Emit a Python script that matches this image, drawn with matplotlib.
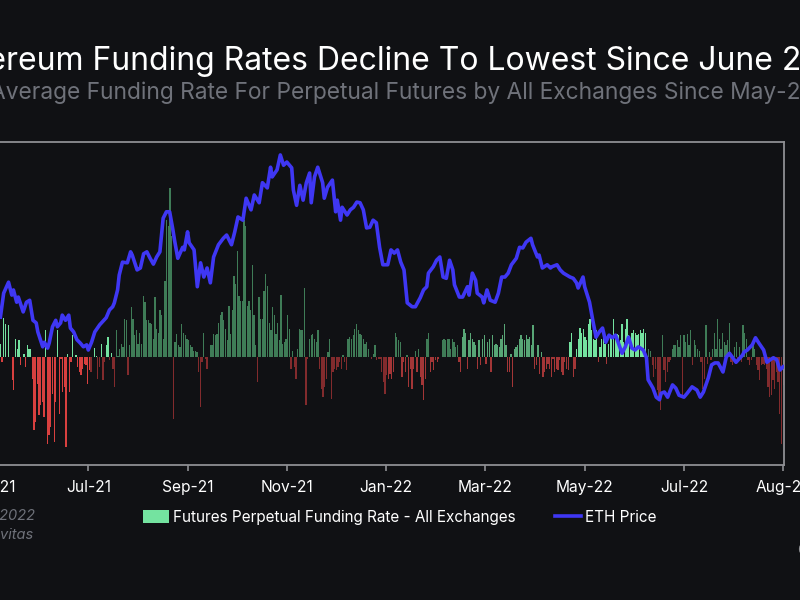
import numpy as np
import matplotlib
matplotlib.use("Agg")
import matplotlib.pyplot as plt
from matplotlib.patches import Patch
from matplotlib.lines import Line2D

plt.rcParams['font.family'] = ['Inter', 'DejaVu Sans']

# ---------------------------------------------------------
# DATA (day 0 = May-21 tick, one tick every 61 days)
# ---------------------------------------------------------
tick_days = [0, 61, 122, 183, 244, 305, 366, 427, 488]
tick_labels = ['May-21', 'Jul-21', 'Sep-21', 'Nov-21', 'Jan-22',
               'Mar-22', 'May-22', 'Jul-22', 'Aug-22']

# daily average funding rate, in units of 0.01 %
funding_first_day = 7
funding_last_day = 488
funding_bp = [
    0.36, -0.14, 1.11, 0.92, 0, 0.89, 0, -0.64, -0.92, 0.5, 0.22, 0.47, -0.22, 0, 0.08, -0.28,
    0.33, 0.22, 0.22, -0.61, -2.03, -1.81, -0.75, -1.61, -1.33, -1.25, -1.67, 0.75, -2.42, -2.17,
    -1.94, -1.03, -2.36, -1.25, 0.75, -1.58, -0.06, -0.97, -0.83, -2.5, 0.08, -0.97, -0.14, 0.61,
    0, 0.06, -0.28, -0.42, -0.5, -0.33, -0.19, -0.22, -0.75, -0.36, -0.42, 0, 0.25, 0.03, -0.61,
    -0.28, 0.36, -0.64, -0.14, 0.33, 0.56, -0.08, 0.11, -0.33, -0.83, 0.75, 0.03, 0.22, 0.36,
    0.28, 1.06, 1.03, -0.5, 0.33, 1.39, 1.06, 0.61, 0.75, 0.36, 0.69,
    0.36, 1.72, 1.53, 1.03, 1.03, 0.97, 0.92, 0.5, 1.67, 0.78, 0.69, 1.33, 1.17, 0.5, 2.14, 3.83,
    3.67, 4.72, 3.39, -1.72, 0.42, 0.64, 0.33, 0.28, 0.92, 0.69, 0.61, 0.5, 0.47, 0.33, 0.28,
    0.19, 0.19, 0.14, -0.42, -1.39, -0.14, 0.69, -0.06, -0.33, 0, 0.33, 0.33, 0.64, 0.61, 0.64,
    0.97, 1.19, 1.25, 1.03, 0.78, 0.47, 1.44, 0.64, 1.31, 2.28, 2.03, 2.97, 1.72, 1.58, 1.58,
    3.83, 3.67, 1.44, 1.58, 1.31, 2.58, 1.19, 0.33, -0.69, 1.67, 1.06, 1.06, 1.86, 2.31, 2.0,
    0.97, 0.75, 1.39, 1.19, 0.64, 0.97, 0.47, 1.75, 0.36, 0.42, 0.5, 1.19, 0.78, -0.33, 0.19, -0.28,
    -0.61, 0.22, 0.78, 0.75, 0.75, 1.94, -1.33, -0.06, 0.5, 0.61, 0.64, 0.5, 0.42, 0.75, -0.33,
    -0.89, -1.11, -0.83, -0.61, 0.14, 0.5, -1.17, -0.42, -0.33, -0.36, -0.28, -0.14, -0.33, 0.06,
    -0.14, -0.36, 0.5, 0.56, 0.5, 0.61, 0.78, 0.92, 0.75, 0.64, 0.61, 0.5, 0.36, 0.42, 0.22, 0,
    -0.06, 0.08, 0.33, -0.08, -0.06, -0.06, -0.42, -0.69, -1.03, -0.5, -0.61, -0.47, -0.61, -0.42,
    0.69, 0.56, 0.47, 0.42, -0.56, -0.14, -0.42, 0.06, -0.83, -0.33, -0.89, -0.33, 0.19, -0.42,
    0.22, -0.56, -0.78, -1.19, -0.61, 0.5, 0.69, -0.42, -0.14, -0.36, -0.08, -0.14, -0.06, 0,
    0.47, 0.5, 0.47, 0.5, 0.5, 0.22, 0.5, 0.42, 0.28, 0.33, -0.14, -0.42, 0.56, 0.78, 0.69, -0.33,
    0.47, 0.69, 0.5, 0.42, 0.33, -0.33, 0.47, -0.22, 0.5, 0.61, -0.19, 0.42, 0.5, -0.42, 0.61,
    0.33, 0.36, 0.33, 0.28, 0.5, 0.61, 0.92, 0.33, -0.42, -0.42, 0.08, -0.83, 0.22, 0.28, 0.33,
    0.5, 0.61, 0.5, 0.47, 0.61, 0.5, 0.56, 0.33, 0.89, -0.33, -0.22, 0.33, -0.47, 0.14, -0.56,
    -0.42, -0.33, -0.19, -0.33, -0.56, -0.06, -0.42, -0.33, -0.36, -0.08, -0.42, -0.5, -0.14,
    -0.33, -0.36, 0.42, 0.69, -0.56, -0.33, 0.22, 0.5, 0.83, 0.69, 0.78, 0.56, 0.47, 0.92, 1.06,
    0.75, 0.5, 0.47,
    0.75, -0.14, 0.28, 0.5, 0.75, 0.36, -0.19, 0.36, 0.61, 0.61, 1.06, 0.56, 0.64, 0.61, 0.47,
    0.92, 0.42, 0.78, 1.06, 0.61, 0.5, 0.69, 0.75, 0.69, 0.61, 0.64, 0.75, 0.69, 0.78, 0.69,
    -0.14, 0.22, 0.19, -0.22, -0.56, -0.33, -0.92, -1.17, -1.47, 0.61, -0.36, -0.69, -0.42,
    -0.14, -0.08, 0.22, 0.33, 0.33, 0.47, 0.28, 0.61, -1.06, 0.61, 0.42, 0.64, 0.33, 0.75, -0.22,
    0.47, 0.33, 0.22, 0.19, -0.14, -0.89, -0.61, 0.89, -0.19, 0.14, -0.08, 0.22, 0.69, 0.22,
    1.06, 0.5, 0.22, 0.69, 0.42, 0.33, 0.47, 0.97, -0.14, -0.22, 0.28, 0.42, -0.08, 0.28, -0.14,
    0.89, 0.69, 0.5, -0.08, -0.22, -0.08, 0.36, 0.22, -0.22, -0.36, -0.64, -0.22, -0.19, -0.22,
    -0.33, -0.83, -1.11, -1.06, -0.64, -0.89, -0.42, -0.69, -1.58, -2.42, -0.78,
]

eth_day = [
    7, 9, 12, 14, 15, 17, 18, 21, 23, 25, 26, 27, 29, 30, 33, 34, 36, 37, 39, 41, 42, 44, 45, 47,
    49, 50, 52, 54, 56, 58, 60, 61, 63, 65, 68, 72, 74, 76, 77, 79, 80, 82, 85, 87, 88, 91, 93,
    95, 97, 99, 101, 103, 105, 107, 109, 111, 113, 114, 116, 119, 120, 122, 123, 126, 128, 130,
    132, 134, 136, 138, 141, 144, 146, 149, 151, 153, 156, 158, 161, 163, 166, 168, 171, 173,
    174, 177, 179, 181, 183, 186, 187, 189, 191, 193, 195, 197, 198, 200, 202, 205, 206, 208,
    211, 213, 214, 216, 217, 220, 222, 224, 226, 228, 230, 232, 234, 236, 238, 240, 242, 245,
    247, 249, 251, 253, 255, 257, 260, 262, 265, 267, 269, 270, 273, 275, 277, 279, 281, 283,
    285, 286, 289, 291, 294, 295, 297, 299, 300, 303, 304, 306, 308, 311, 313, 315, 317, 319,
    321, 324, 326, 328, 330, 333, 334, 337, 338, 340, 343, 345, 346, 349, 351, 353, 355, 357,
    359, 361, 362, 365, 366, 368, 369, 371, 373, 375, 377, 379, 381, 383, 385, 386, 389, 391,
    393, 395, 397, 399, 402, 404, 405, 408, 410, 412, 413, 415, 417, 420, 422, 424, 427, 429,
    432, 435, 437, 439, 442, 444, 446, 448, 451, 453, 455, 457, 459, 463, 464, 466, 469, 471,
    473, 476, 478, 480, 482, 484, 486, 488,
]
eth_price = [
    2290, 2660, 2830, 2630, 2710, 2520, 2600, 2370, 2520, 2550, 2400, 2240, 2200, 2060, 1830,
    1900, 1810, 1890, 2140, 2240, 2140, 2200, 2320, 2240, 2320, 2120, 2060, 1940, 1890, 1830,
    1860, 1780, 1900, 2060, 2170, 2280, 2400, 2450, 2510, 2710, 2940, 3140, 3130, 3300, 3250,
    3020, 3050, 3270, 3300, 3200, 3110, 3220, 3300, 3820, 3920, 3920, 3640, 3480, 3200, 3370,
    3330, 3610, 3440, 3330, 2760, 3130, 2910, 3050, 2820, 3220, 3410, 3510, 3560, 3410, 3610,
    3840, 3790, 4130, 3950, 4180, 4060, 4370, 4290, 4610, 4460, 4570, 4800, 4640, 4690, 4600,
    4260, 4020, 4330, 4100, 4370, 4520, 4060, 4460, 4610, 4370, 4130, 4300, 4410, 3920, 4100,
    3790, 3990, 3870, 3950, 3990, 4070, 4060, 3950, 3670, 3680, 3790, 3750, 3370, 3100, 3100,
    3330, 3280, 3330, 3140, 3020, 2510, 2450, 2450, 2590, 2710, 2760, 2970, 3070, 3170, 3220,
    2910, 2890, 3170, 3020, 2790, 2600, 2600, 2760, 2630, 2970, 2860, 2660, 2600, 2510, 2710,
    2550, 2520, 2660, 2910, 2910, 2970, 3100, 3200, 3370, 3360, 3450, 3510, 3410, 3220, 3250,
    3050, 3100, 3050, 3070, 3100, 3020, 2970, 2940, 2910, 2890, 2820, 2740, 2910, 2760, 2600,
    2520, 2240, 1980, 2060, 2120, 1900, 2010, 1970, 2010, 1940, 1730, 1830, 1980, 1810, 1780,
    1830, 1780, 1660, 1320, 1190, 1050, 1010, 1110, 1130, 1050, 1240, 1190, 1080, 1050, 1110,
    1210, 1160, 1050, 1130, 1350, 1550, 1580, 1580, 1440, 1670, 1730, 1660, 1590, 1700, 1750,
    1780, 1860, 1970, 1890, 1780, 1590, 1630, 1660, 1630, 1470, 1520,
]

# ---------------------------------------------------------
# STYLE
# ---------------------------------------------------------
BG = '#101114'
SPINE = '#8e8f93'
BLUE = '#3f37f4'


def bar_color(day, val):
    if val >= 0:
        if day < 78 or 355 <= day <= 405:
            return '#74e3a0'
        if 290 <= day < 355:
            return '#58a676'
        return '#3f7c57'
    if day < 62:
        return '#d8403f'
    if 245 <= day < 380:
        return '#a33637'
    return '#822b2d'


fig = plt.figure(figsize=(8, 6), dpi=100, facecolor=BG)
ax = fig.add_axes([-0.0239, 0.225, 1.0039, 0.5383])
ax.set_facecolor(BG)

days = np.linspace(funding_first_day, funding_last_day, len(funding_bp))
colors = [bar_color(d, v) for d, v in zip(days, funding_bp)]
ax.bar(days, funding_bp, width=0.8, color=colors, linewidth=0)
ax.set_ylim(-3, 6)
ax.set_xlim(-5, 488.5)

ax.yaxis.tick_right()
ax.set_yticks(np.arange(-3, 7))
ax.set_yticklabels([f"{v / 100:.2f}%" for v in np.arange(-3, 7)])
ax.tick_params(axis='y', length=0, pad=10, colors='#8e8f93', labelsize=11)

ax.set_xticks(tick_days)
ax.set_xticklabels(tick_labels)
ax.tick_params(axis='x', length=4, width=1.2, colors='white', labelsize=11.2, pad=7)
ax.tick_params(axis='x', color=SPINE)

for side in ['top', 'right', 'bottom']:
    ax.spines[side].set_color(SPINE)
    ax.spines[side].set_linewidth(1.3)
ax.spines['left'].set_visible(False)

ax2 = ax.twinx()
ax2.plot(eth_day, eth_price, color=BLUE, lw=2.6, solid_joinstyle='round')
ax2.set_ylim(0, 5000)
ax2.set_yticks([])
for s in ax2.spines.values():
    s.set_visible(False)

# titles
fig.text(0.5, 0.897, "Ethereum Funding Rates Decline To Lowest Since June 2022",
         ha='center', va='center', color='white', fontsize=23)
fig.text(0.5, 0.846, "Average Funding Rate For Perpetual Futures by All Exchanges Since May-21",
         ha='center', va='center', color='#6f727a', fontsize=16.4)

# legend
handles = [Patch(facecolor='#74e3a0', edgecolor='none'),
           Line2D([0], [0], color=BLUE, lw=2.6)]
fig.legend(handles, ['Futures Perpetual Funding Rate - All Exchanges', 'ETH Price'],
           loc='center', bbox_to_anchor=(0.5, 0.138), ncol=2, frameon=False,
           fontsize=11, labelcolor='white', handlelength=1.7, handleheight=0.9,
           handletextpad=0.25, columnspacing=2.6)

# footer
fig.text(0.044, 0.14, "Date: Aug. 2022", ha='right', va='center', color='#6f727a',
         fontsize=10.5, style='italic')
fig.text(0.041, 0.108, "Source: Laevitas", ha='right', va='center', color='#6f727a',
         fontsize=10.5, style='italic')
fig.text(0.996, 0.083, "CoinDesk", ha='left', va='center', color='#8e8f93', fontsize=11)

fig.savefig('out.png', dpi=100, facecolor=BG)
